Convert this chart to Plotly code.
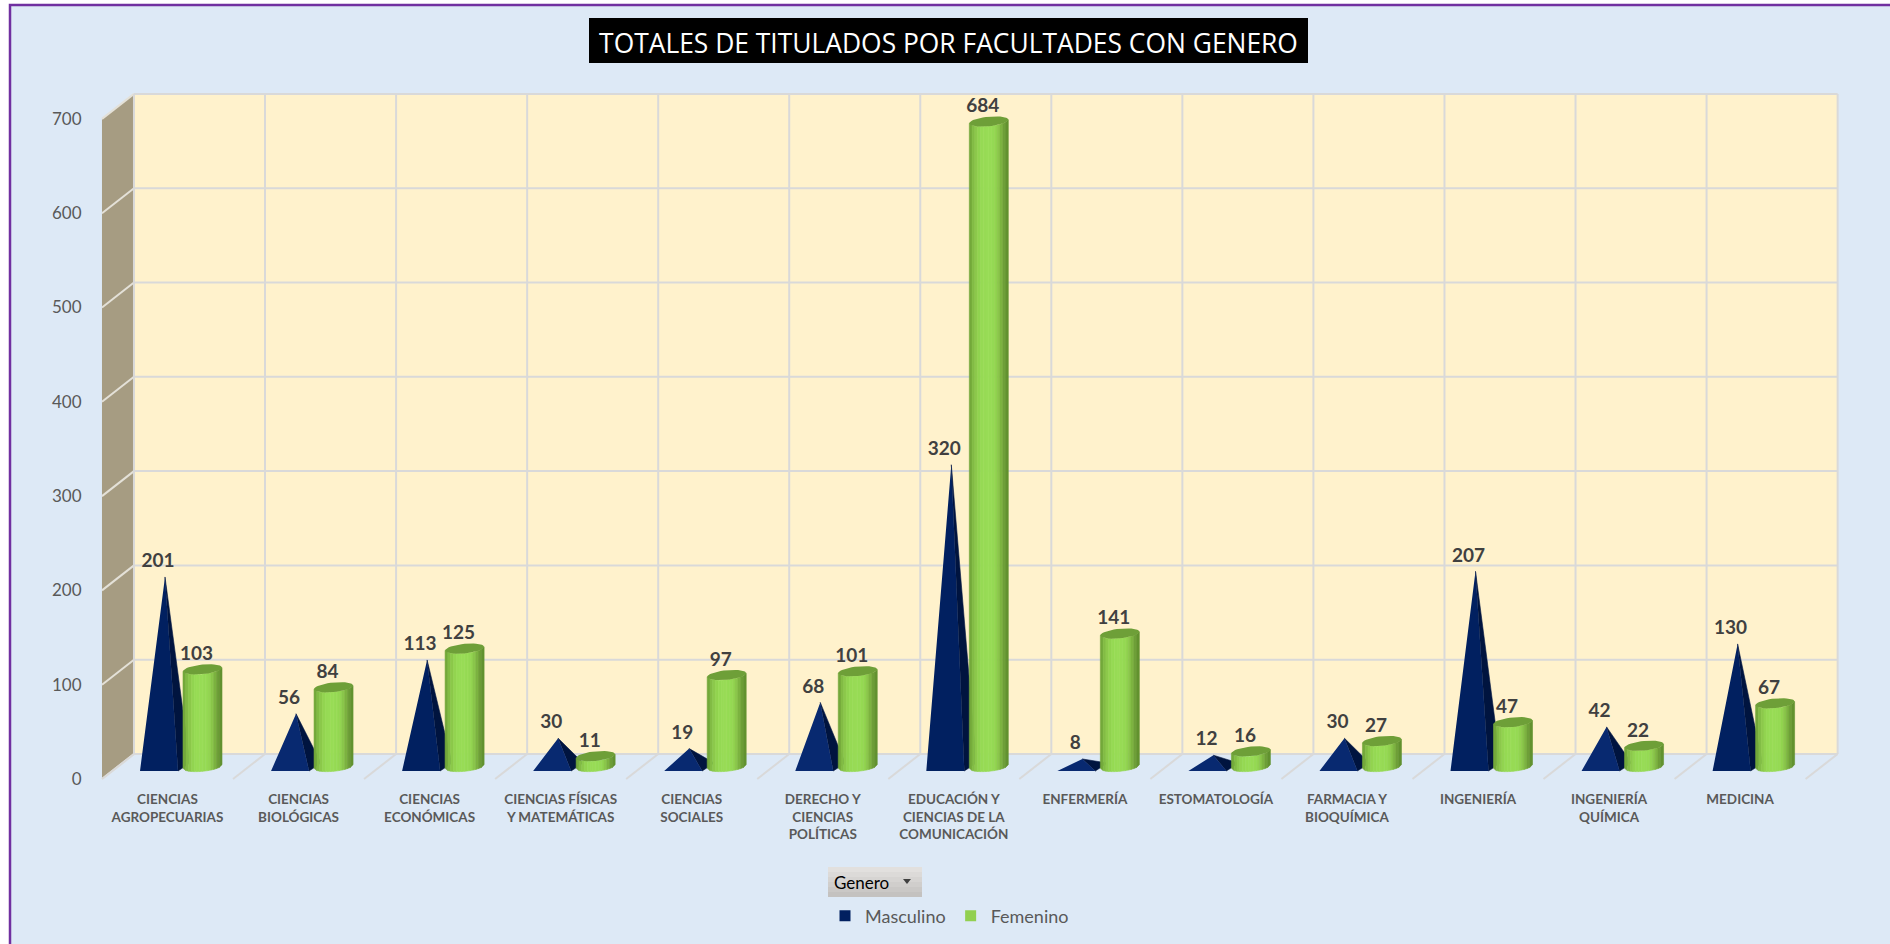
import math
import plotly.graph_objects as go

categories = ["CIENCIAS<br>AGROPECUARIAS", "CIENCIAS<br>BIOLÓGICAS", "CIENCIAS<br>ECONÓMICAS",
              "CIENCIAS FÍSICAS<br>Y MATEMÁTICAS", "CIENCIAS<br>SOCIALES", "DERECHO Y<br>CIENCIAS<br>POLÍTICAS",
              "EDUCACIÓN Y<br>CIENCIAS DE LA<br>COMUNICACIÓN", "ENFERMERÍA", "ESTOMATOLOGÍA",
              "FARMACIA Y<br>BIOQUÍMICA", "INGENIERÍA", "INGENIERÍA<br>QUÍMICA", "MEDICINA"]
masculino = [201, 56, 113, 30, 19, 68, 320, 8, 12, 30, 207, 42, 130]
femenino = [103, 84, 125, 11, 97, 101, 684, 141, 16, 27, 47, 22, 67]
y_ticks = [0, 100, 200, 300, 400, 500, 600, 700]

W, H = 1890, 944
PX_X = 131.05     # pixels per category
PX_Y = 0.943      # pixels per value unit
X0 = 167.5        # pixel of first category on the front plane
Y0 = 779.0        # pixel of value 0 on the front plane
n = len(categories)


def dx(px):
    return px / PX_X


def dy(px):
    return px / PX_Y


DEPTH_X, DEPTH_Y = dx(32), dy(25)
BASE = dy(12.5)
LEFT, RIGHT = -0.5, n - 0.5
grid = "#D9D9D9"
traces = []


def poly(xs, ys, color, line=None):
    return go.Scatter(x=xs, y=ys, mode="lines", fill="toself", fillcolor=color,
                      line=dict(width=line[1], color=line[0]) if line else dict(width=0, color=color),
                      hoverinfo="skip", showlegend=False)


def lines(xs, ys, color=grid, width=2):
    return go.Scatter(x=xs, y=ys, mode="lines", line=dict(color=color, width=width),
                      hoverinfo="skip", showlegend=False)


# back wall and side wall
bl, br = LEFT + DEPTH_X, RIGHT + DEPTH_X
top = y_ticks[-1]
traces.append(poly([bl, br, br, bl, bl], [DEPTH_Y, DEPTH_Y, top + DEPTH_Y, top + DEPTH_Y, DEPTH_Y], "#FFF2CC"))
traces.append(poly([LEFT, bl, bl, LEFT, LEFT], [0, DEPTH_Y, top + DEPTH_Y, top, 0], "#A69C82"))

# gridlines on the walls and the floor
hx, hy, sx, sy, vx, vy, fx, fy = [], [], [], [], [], [], [], []
for t in y_ticks:
    hx += [bl, br, None]
    hy += [t + DEPTH_Y, t + DEPTH_Y, None]
    sx += [LEFT, bl, None]
    sy += [t, t + DEPTH_Y, None]
for k in range(n + 1):
    vx += [bl + k, bl + k, None]
    vy += [DEPTH_Y, top + DEPTH_Y, None]
    fx += [LEFT + k, bl + k, None]
    fy += [0, DEPTH_Y, None]
traces.append(lines(sx, sy, "#E4E1D8", 2))
traces.append(lines(hx, hy))
traces.append(lines(vx, vy))
traces.append(lines(fx, fy))

# pyramids (Masculino)
face_dark = ([], [])
face_light = ([], [])
side = ([], [])
lab_mx, lab_my = [], []
for i, v in enumerate(masculino):
    apex_x = i + dx(-2.5)
    apex_y = BASE + v
    xl, xr, xb = i + dx(-27.5), i + dx(10.5), i + dx(22.5)
    yf, yb = dy(8), dy(16)
    tgt = face_dark if v >= 100 else face_light
    tgt[0].extend([xl, xr, apex_x, xl, None])
    tgt[1].extend([yf, yf, apex_y, yf, None])
    side[0].extend([xr, xb, apex_x, xr, None])
    side[1].extend([yf, yb, apex_y, yf, None])
    lab_mx.append(apex_x + dx(-7))
    lab_my.append(apex_y + dy(14.5))
traces.append(poly(side[0], side[1], "#00143F", ("#00143F", 0.6)))
traces.append(poly(face_dark[0], face_dark[1], "#012060"))
traces.append(poly(face_light[0], face_light[1], "#082970"))

# cylinders (Femenino), shaded by vertical strips
RAD, TILT, MINOR = 19.5, 1.8, 4.8
strip_colors = ["#73A83A", "#82BC44", "#8CC94B", "#92D450", "#96DA54", "#97DB55", "#98DC56",
                "#97DB55", "#96DA54", "#92D450", "#8AC64A", "#7CB340", "#6E9F38", "#62922F"]
N = len(strip_colors)
lab_fx, lab_fy = [], []
strips = [([], []) for _ in range(N)]
top_x, top_y = [], []


def rim(u):
    """pixel offset of the lower rim at parameter u (-1..1 across the cylinder)"""
    s = math.sqrt(max(0.0, 1 - u * u))
    return RAD * u, TILT * u - MINOR * s


for i, v in enumerate(femenino):
    cx = i + dx(35)
    for j in range(N):
        u0, u1 = -1 + 2 * j / N, -1 + 2 * (j + 1) / N
        a = rim(u0)
        b = rim(u1)
        xs = [cx + dx(a[0]), cx + dx(b[0]), cx + dx(b[0]), cx + dx(a[0]), cx + dx(a[0]), None]
        ys = [BASE + dy(a[1]), BASE + dy(b[1]), BASE + v + dy(b[1]), BASE + v + dy(a[1]), BASE + dy(a[1]), None]
        strips[j][0].extend(xs)
        strips[j][1].extend(ys)
    for q in range(41):
        t = 2 * math.pi * q / 40
        top_x.append(cx + dx(RAD * math.cos(t)))
        top_y.append(BASE + v + dy(TILT * math.cos(t) + MINOR * math.sin(t)))
    top_x.append(None)
    top_y.append(None)
    lab_fx.append(cx + dx(-6))
    lab_fy.append(BASE + v + dy(14))
for j in range(N):
    traces.append(poly(strips[j][0], strips[j][1], strip_colors[j], (strip_colors[j], 0.6)))
traces.append(poly(top_x, top_y, "#6E9F38"))

# value labels
label_font = dict(family="Lato", size=19, color="#404040", weight="bold")
traces.append(go.Scatter(x=lab_mx, y=lab_my, text=[str(v) for v in masculino], mode="text",
                         textposition="middle center", textfont=label_font, showlegend=False, hoverinfo="skip"))
traces.append(go.Scatter(x=lab_fx, y=lab_fy, text=[str(v) for v in femenino], mode="text",
                         textposition="middle center", textfont=label_font, showlegend=False, hoverinfo="skip"))

# legend entries
traces.append(go.Scatter(x=[None], y=[None], mode="markers", name="Masculino",
                         marker=dict(symbol="square", size=11, color="#012060")))
traces.append(go.Scatter(x=[None], y=[None], mode="markers", name="Femenino",
                         marker=dict(symbol="square", size=11, color="#92D050")))

# filter button, lighter at the top and darker at the bottom
button_bands = ["#E2E0DE", "#DCDAD8", "#D6D4D2", "#D0CECC", "#CAC8C6", "#C4C2C0"]
band_h = 30 / len(button_bands)
button_shapes = [dict(type="rect", xref="paper", yref="paper", x0=828 / W, x1=922 / W,
                      y0=1 - (867 + (b + 1) * band_h) / H, y1=1 - (867 + b * band_h) / H,
                      fillcolor=c, line=dict(width=0), layer="below")
                 for b, c in enumerate(button_bands)]

fig = go.Figure(traces)
fig.update_layout(
    width=W, height=H, margin=dict(l=0, r=0, t=0, b=0),
    paper_bgcolor="#FFFFFF", plot_bgcolor="rgba(0,0,0,0)",
    font=dict(family="Lato"),
    title=dict(text="TOTALES DE TITULADOS POR FACULTADES CON GENERO",
               x=948.5 / W, xanchor="center", y=1 - 44 / H, yanchor="middle",
               font=dict(family="Open Sans", size=26.4, color="#FFFFFF")),
    xaxis=dict(range=[-X0 / PX_X, (W - X0) / PX_X], tickmode="array", tickvals=list(range(n)),
               ticktext=categories, tickangle=0, showgrid=False, zeroline=False, showline=False,
               ticks="outside", ticklen=8, tickcolor="rgba(0,0,0,0)", anchor="free", position=1 - Y0 / H,
               tickfont=dict(family="Lato", size=13.5, color="#595959", weight="bold")),
    yaxis=dict(range=[(Y0 - H) / PX_Y, Y0 / PX_Y], tickmode="array", tickvals=y_ticks,
               showgrid=False, zeroline=False, showline=False, ticks="outside", ticklen=17,
               tickcolor="rgba(0,0,0,0)", anchor="free", position=102 / W,
               tickfont=dict(family="Lato", size=17, color="#595959")),
    legend=dict(orientation="h", x=825 / W, y=1 - 916 / H, xanchor="left", yanchor="middle",
                bgcolor="rgba(0,0,0,0)", font=dict(family="Lato", size=18, color="#595959"),
                itemclick=False, itemdoubleclick=False),
    shapes=[
        dict(type="rect", xref="paper", yref="paper", x0=10 / W, x1=1.01, y0=-0.01, y1=1 - 5 / H,
             fillcolor="#DDE9F6", line=dict(color="#7030A0", width=2.5), layer="below"),
        dict(type="rect", xref="paper", yref="paper", x0=589 / W, x1=1308 / W, y0=1 - 63 / H, y1=1 - 18 / H,
             fillcolor="#000000", line=dict(width=0), layer="below"),
    ] + button_shapes + [
        dict(type="path", xref="paper", yref="paper",
             path=f"M {903/W} {1-879/H} L {911/W} {1-879/H} L {907/W} {1-884/H} Z",
             fillcolor="#404040", line=dict(width=0), layer="below"),
    ],
    annotations=[dict(text="Genero", xref="paper", yref="paper", x=832 / W, y=1 - 882 / H,
                      xanchor="left", yanchor="middle", showarrow=False,
                      font=dict(family="Lato", size=17, color="#000000"))],
)
fig.write_html("out.html", post_script="document.body.style.margin='0';", config=dict(displayModeBar=False))
